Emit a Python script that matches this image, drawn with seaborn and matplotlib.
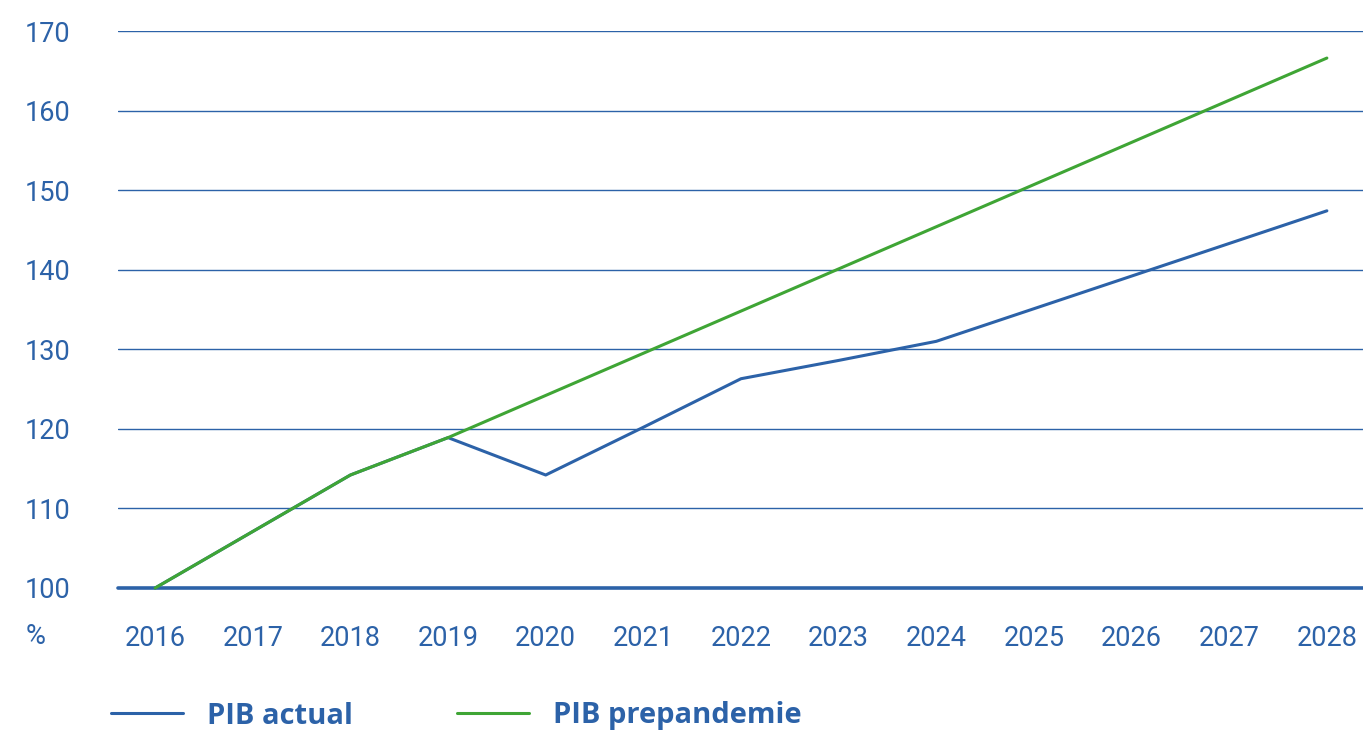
import matplotlib
matplotlib.use("Agg")
import matplotlib.pyplot as plt
import seaborn as sns
import pandas as pd
from matplotlib.lines import Line2D

years = list(range(2016, 2029))
pib_actual = [100.0, 107.1, 114.2, 118.9, 114.2, 120.2, 126.3, 128.6, 131.0, 135.1, 139.2, 143.3, 147.4]
pib_prepandemie = [100.0, 107.1, 114.2, 118.9, 124.2, 129.5, 134.8, 140.1, 145.4, 150.7, 156.0, 161.3, 166.6]
series_names = ["PIB actual", "PIB prepandemie"]
y_ticks = [100, 110, 120, 130, 140, 150, 160, 170]

BLUE = "#2c62a8"
GREEN = "#3fa535"

sns.set_theme(style="white")
plt.rcParams["font.family"] = ["Roboto", "DejaVu Sans"]

df = pd.DataFrame({
    "year": years * 2,
    "value": pib_actual + pib_prepandemie,
    "serie": [series_names[0]] * len(years) + [series_names[1]] * len(years),
})

fig = plt.figure(figsize=(13.63, 7.38), dpi=100)
ax = fig.add_axes([118 / 1363, 1 - 588 / 738, 1 - 118 / 1363, (588 - 31) / 738])

sns.lineplot(data=df, x="year", y="value", hue="serie", hue_order=series_names,
             palette=[BLUE, GREEN], linewidth=2.2, ax=ax, legend=False)
for ln in ax.get_lines():
    ln.set_clip_on(False)

ax.set_xlim(2015.62, 2028.37)
ax.set_ylim(100, 170)
for s in ax.spines.values():
    s.set_visible(False)

for t in y_ticks[1:]:
    ax.axhline(t, color=BLUE, linewidth=1.0, zorder=0)
ax.axhline(100, color=BLUE, linewidth=2.6, zorder=1, clip_on=False)

ax.set_xticks(years)
ax.set_xticklabels([str(y) for y in years])
ax.set_yticks(y_ticks)
ax.set_yticklabels([str(t) for t in y_ticks])
ax.tick_params(axis="x", length=0, pad=27, labelsize=19.5, labelcolor=BLUE)
ax.tick_params(axis="y", length=0, pad=67, labelsize=19.5, labelcolor=BLUE)
for lab in ax.get_yticklabels():
    lab.set_horizontalalignment("left")
ax.set_xlabel("")
ax.set_ylabel("")

fig.text(26 / 1363, 1 - 636 / 738, "%", color=BLUE, fontsize=19.5, va="center", ha="left")

handles = [Line2D([0], [0], color=BLUE, lw=2.2), Line2D([0], [0], color=GREEN, lw=2.2)]
leg = fig.legend(handles, series_names, loc="center left",
                 bbox_to_anchor=(111 / 1363, 1 - 716 / 738), ncol=2, frameon=False,
                 borderpad=0, borderaxespad=0,
                 handlelength=2.47, handletextpad=0.82, columnspacing=3.56,
                 prop={"family": "Open Sans", "size": 21, "weight": "bold"})
for txt in leg.get_texts():
    txt.set_color(BLUE)

fig.savefig("out.png", dpi=100)
